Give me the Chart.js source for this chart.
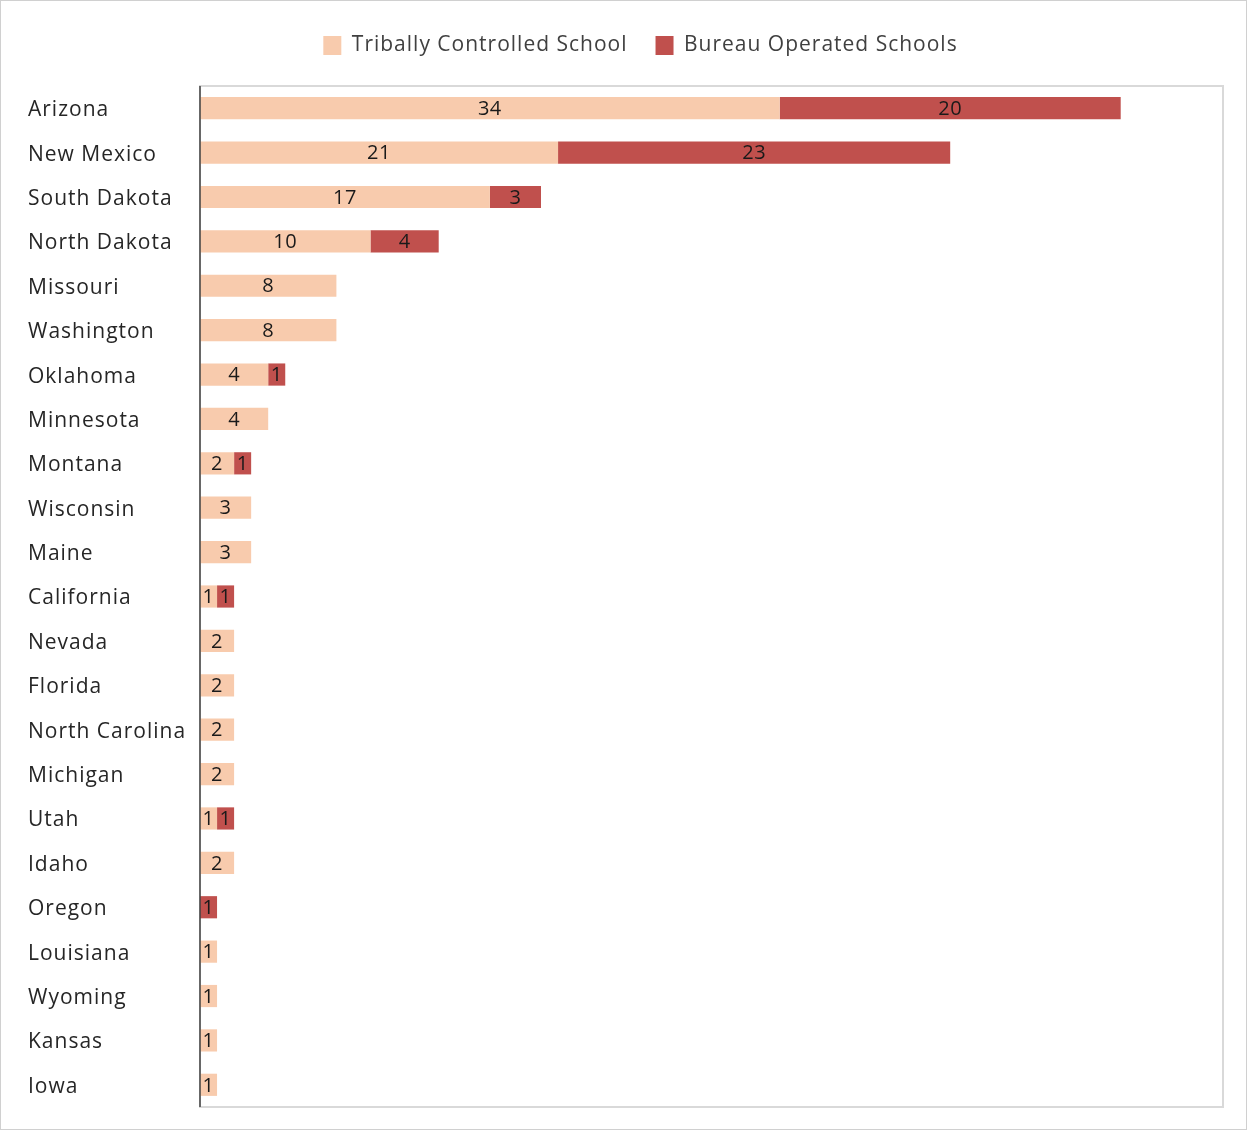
<!DOCTYPE html>
<html>
<head>
<meta charset="utf-8">
<script src="https://cdn.jsdelivr.net/npm/chart.js@4"></script>
<style>
html,body{margin:0;padding:0;background:#fff;}
#wrap{position:relative;width:1245px;height:1128px;border:1px solid #d0d0d0;}
canvas{display:block;}
</style>
</head>
<body>
<div id="wrap"><canvas id="c" width="1245" height="1128"></canvas></div>
<script>
const states = ["Arizona","New Mexico","South Dakota","North Dakota","Missouri","Washington","Oklahoma","Minnesota","Montana","Wisconsin","Maine","California","Nevada","Florida","North Carolina","Michigan","Utah","Idaho","Oregon","Louisiana","Wyoming","Kansas","Iowa"];
const tribal = [34,21,17,10,8,8,4,4,2,3,3,1,2,2,2,2,1,2,0,1,1,1,1];
const bureau = [20,23,3,4,0,0,1,0,1,0,0,1,0,0,0,0,1,0,1,0,0,0,0];
const seriesNames = ["Tribally Controlled School","Bureau Operated Schools"];
const xMax = 60;

const FONT = "'Open Sans', 'Noto Sans', sans-serif";

function spacing(chart) { try { chart.ctx.letterSpacing = '1px'; } catch (e) {} }

const labelPlugin = {
  id: 'barLabels',
  afterDatasetsDraw(chart) {
    const ctx = chart.ctx;
    ctx.save();
    ctx.letterSpacing = '0.5px';
    ctx.font = "20px " + FONT;
    ctx.fillStyle = "#1a1a1a";
    ctx.textAlign = "center";
    ctx.textBaseline = "middle";
    chart.data.datasets.forEach((ds, i) => {
      const meta = chart.getDatasetMeta(i);
      meta.data.forEach((bar, j) => {
        const v = ds.data[j];
        if (!v) return;
        const cx = (bar.x + bar.base) / 2;
        ctx.fillText(String(v), cx, bar.y + 1);
      });
    });
    ctx.restore();
  }
};

const framePlugin = {
  id: 'frame',
  beforeInit(chart) {
    const lg = chart.legend;
    if (lg) {
      const orig = lg.fit;
      lg.fit = function () { orig.call(this); this.height += 20; };
    }
  },
  beforeUpdate: spacing,
  beforeLayout: spacing,
  afterLayout(chart) {
    const lg = chart.legend;
    if (lg) { lg.left += 15; lg.right += 15; }
  },
  beforeDraw: spacing,
  beforeDatasetsDraw(chart) {
    const a = chart.chartArea, ctx = chart.ctx;
    ctx.save();
    ctx.strokeStyle = "#d9d9d9";
    ctx.lineWidth = 2;
    ctx.strokeRect(a.left, a.top, a.right - a.left, a.bottom - a.top);
    ctx.restore();
  },
  afterDatasetsDraw(chart) {
    const a = chart.chartArea, ctx = chart.ctx;
    ctx.save();
    ctx.strokeStyle = "#404040";
    ctx.lineWidth = 1.5;
    ctx.beginPath();
    ctx.moveTo(a.left, a.top);
    ctx.lineTo(a.left, a.bottom);
    ctx.stroke();
    ctx.restore();
  }
};

new Chart(document.getElementById('c'), {
  type: 'bar',
  data: {
    labels: states,
    datasets: [
      { label: seriesNames[0], data: tribal, backgroundColor: "#F8CBAD", borderWidth: 0 },
      { label: seriesNames[1], data: bureau, backgroundColor: "#C0504D", borderWidth: 0 }
    ]
  },
  options: {
    indexAxis: 'y',
    responsive: false,
    animation: false,
    layout: { padding: { left: 27, right: 23, top: 6, bottom: 22 } },
    datasets: { bar: { barPercentage: 0.5, categoryPercentage: 1.0 } },
    plugins: {
      legend: {
        position: 'top',
        labels: {
          font: { family: FONT, size: 21 },
          color: "#404040",
          boxWidth: 18,
          boxHeight: 19,
          padding: 28
        }
      },
      tooltip: { enabled: false }
    },
    scales: {
      x: { stacked: true, min: 0, max: xMax, display: false },
      y: {
        stacked: true,
        grid: { display: false, drawTicks: false },
        border: { display: false },
        ticks: {
          crossAlign: 'far',
          padding: 8,
          labelOffset: 2,
          color: "#262626",
          font: { family: FONT, size: 21 }
        },
        afterFit(scale) { scale.width = 172; }
      }
    }
  },
  plugins: [labelPlugin, framePlugin]
});
</script>
</body>
</html>
